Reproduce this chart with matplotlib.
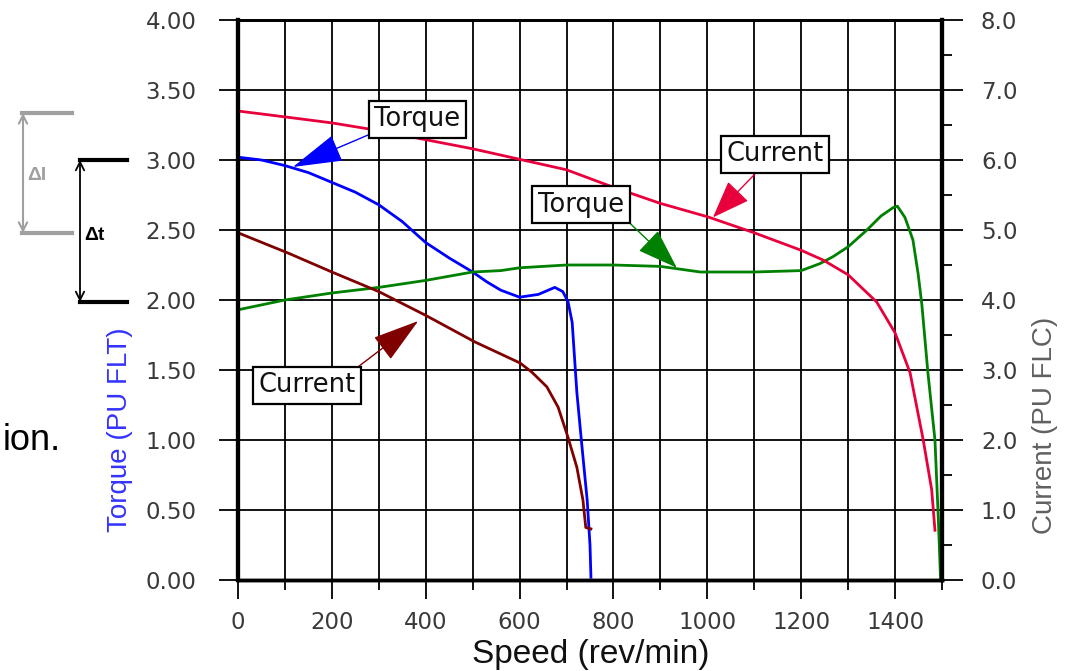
import matplotlib
matplotlib.use("Agg")
import matplotlib.pyplot as plt
from matplotlib.lines import Line2D
from matplotlib.ticker import MultipleLocator, FormatStrFormatter

# low speed winding: torque (PU FLT) and current (PU FLC)
lo_torque_speed = [0, 50, 100, 150, 200, 250, 300, 350, 400, 450, 500, 530, 560, 600,
                   640, 675, 692, 703, 712, 722, 729, 735, 744, 750, 752]
lo_torque = [3.02, 3.00, 2.96, 2.91, 2.84, 2.77, 2.68, 2.56, 2.41, 2.30, 2.20, 2.13, 2.07, 2.02,
             2.04, 2.09, 2.06, 1.99, 1.84, 1.34, 1.09, 0.88, 0.57, 0.25, 0.02]
lo_current_speed = [0, 107, 200, 300, 400, 505, 601, 626, 658, 682, 703, 722, 735, 741, 752]
lo_current = [4.96, 4.67, 4.40, 4.12, 3.78, 3.40, 3.10, 2.97, 2.76, 2.47, 2.04, 1.61, 1.14, 0.75, 0.73]

# high speed winding
hi_torque_speed = [0, 100, 200, 300, 400, 500, 560, 600, 700, 800, 900, 985, 1100, 1200,
                   1240, 1268, 1300, 1340, 1370, 1396, 1405, 1421, 1438, 1449, 1457, 1470,
                   1485, 1492, 1497]
hi_torque = [1.93, 2.00, 2.05, 2.09, 2.14, 2.20, 2.21, 2.23, 2.25, 2.25, 2.24, 2.20, 2.20, 2.21,
             2.26, 2.31, 2.38, 2.50, 2.60, 2.66, 2.67, 2.59, 2.43, 2.19, 1.97, 1.48,
             1.00, 0.45, 0.0]
hi_current_speed = [0, 107, 200, 300, 400, 500, 600, 700, 800, 900, 1000, 1100, 1200, 1247,
                    1300, 1361, 1400, 1432, 1460, 1478, 1485]
hi_current = [6.70, 6.61, 6.53, 6.42, 6.29, 6.16, 6.01, 5.86, 5.61, 5.38, 5.19, 4.96, 4.71, 4.57,
              4.36, 3.97, 3.53, 2.96, 2.00, 1.29, 0.71]

W, H = 1065, 671
fig = plt.figure(figsize=(W / 100, H / 100), dpi=100)
ax = fig.add_axes([238 / W, 1 - 580 / H, (942 - 238) / W, (580 - 20) / H])
ax2 = ax.twinx()

ax.set_xlim(0, 1500)
ax.set_ylim(0, 4)
ax2.set_ylim(0, 8)

ax.xaxis.set_major_locator(MultipleLocator(200))
ax.xaxis.set_minor_locator(MultipleLocator(100))
ax.yaxis.set_major_locator(MultipleLocator(0.5))
ax.yaxis.set_major_formatter(FormatStrFormatter("%.2f"))
ax2.yaxis.set_major_locator(MultipleLocator(1))
ax2.yaxis.set_minor_locator(MultipleLocator(0.5))
ax2.yaxis.set_major_formatter(FormatStrFormatter("%.1f"))

ax.grid(True, which="both", axis="x", color="black", lw=1.3)
ax.grid(True, which="major", axis="y", color="black", lw=1.3)
ax.set_axisbelow(True)

tick_col = "#3a3a3a"
ax.tick_params(axis="y", length=14, width=1.3, pad=16, labelsize=16.5, labelcolor=tick_col)
ax.tick_params(axis="x", which="major", length=14, width=1.3, pad=8, labelsize=16.5,
               labelcolor=tick_col)
ax.tick_params(axis="x", which="minor", length=7, width=1.3)
ax2.tick_params(axis="y", which="major", length=15, width=1.3, pad=13, labelsize=16.5,
                labelcolor=tick_col)
ax2.tick_params(axis="y", which="minor", length=7.5, width=1.3)

for a in (ax, ax2):
    a.spines["left"].set_linewidth(3)
    a.spines["right"].set_linewidth(3)
    a.spines["bottom"].set_linewidth(2.5)
    a.spines["top"].set_linewidth(2)

ax.plot(lo_torque_speed, lo_torque, color="#0000ff", lw=2)
ax.plot(hi_torque_speed, hi_torque, color="#008000", lw=2)
ax2.plot(lo_current_speed, lo_current, color="#800000", lw=2)
ax2.plot(hi_current_speed, hi_current, color="#e8003c", lw=2)

box = dict(boxstyle="square,pad=0.22", fc="white", ec="black", lw=1.6)


def label(text, xytext, xy, color, relpos, hl):
    ax2.annotate(text, xy=xy, xytext=xytext, ha="center", va="center", fontsize=18.5,
                 color="#111111", bbox=box, zorder=5,
                 arrowprops=dict(arrowstyle=f"-|>,head_length={hl},head_width=0.45",
                                 mutation_scale=20, color=color, lw=1, relpos=relpos,
                                 shrinkA=0, shrinkB=0))


label("Torque", (382, 6.58), (117, 5.90), "#0000ff", (0, 0), 1.6)
label("Current", (1144, 6.08), (1012, 5.18), "#e8003c", (0.36, 0), 1.2)
label("Torque", (731, 5.36), (935, 4.46), "#008000", (1, 0), 1.3)
label("Current", (147, 2.78), (384, 3.70), "#800000", (0.95, 1), 1.5)

# axis titles
fig.text(120 / W, 1 - 430 / H, "Torque (PU FLT)", rotation=90, ha="center", va="center",
         color="#3333ff", fontsize=20, family="Liberation Sans")
fig.text(1045 / W, 1 - 425 / H, "Current (PU FLC)", rotation=90, ha="center", va="center",
         color="#606060", fontsize=20, family="Liberation Sans")
fig.text(591 / W, 1 - 655 / H, "Speed (rev/min)", ha="center", va="center",
         color="#111111", fontsize=24, family="Liberation Sans")
fig.text(3 / W, 1 - 450 / H, "ion.", ha="left", va="baseline", color="black",
         fontsize=26, family="Liberation Sans")


# delta markers on the left
def px(x, y):
    return (x, H - y)


gray = "#a0a0a0"
for yy in (113, 233):
    fig.add_artist(Line2D([22 / W, 72 / W], [1 - yy / H] * 2, color=gray, lw=3))
fig.add_artist(Line2D([80 / W, 127 / W], [1 - 160 / H] * 2, color="black", lw=3))
fig.add_artist(Line2D([80 / W, 127 / W], [1 - 302 / H] * 2, color="black", lw=3))
ax.annotate("", xy=px(23, 113), xytext=px(23, 233), xycoords="figure pixels",
            textcoords="figure pixels", annotation_clip=False,
            arrowprops=dict(arrowstyle="<->,head_length=0.6,head_width=0.3", color=gray,
                            lw=1.5, shrinkA=0, shrinkB=0))
ax.annotate("", xy=px(80, 160), xytext=px(80, 302), xycoords="figure pixels",
            textcoords="figure pixels", annotation_clip=False,
            arrowprops=dict(arrowstyle="<->,head_length=0.6,head_width=0.3", color="black",
                            lw=1.3, shrinkA=0, shrinkB=0))
fig.text(37 / W, 1 - 175 / H, "\u0394I", ha="center", va="center", color=gray,
         fontsize=14, fontweight="bold", family="Liberation Sans")
fig.text(94 / W, 1 - 236 / H, "\u0394t", ha="center", va="center", color="black",
         fontsize=14, fontweight="bold", family="Liberation Sans")

fig.savefig("out.png", dpi=100)
